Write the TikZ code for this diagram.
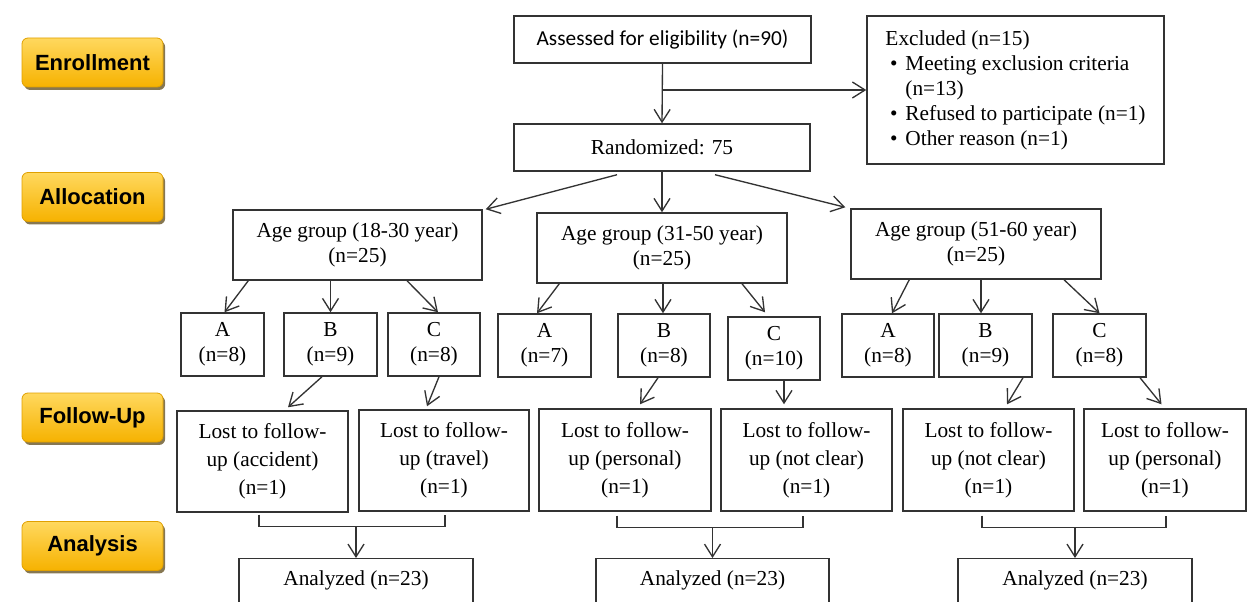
\documentclass[tikz,border=0pt]{standalone}
\usepackage{fontspec}
\setmainfont{Liberation Serif}
\newfontfamily\lblfont{Liberation Sans}
\newfontfamily\calfont{Carlito}
\usetikzlibrary{arrows.meta,calc,shadows}
\definecolor{ln}{HTML}{333333}
\definecolor{ytop}{HTML}{FFD85E}
\definecolor{ybot}{HTML}{F6B200}
\definecolor{yedge}{HTML}{E0A000}
\definecolor{shd}{HTML}{5E4A18}
\begin{document}
\begin{tikzpicture}[x=0.75pt,y=-0.75pt,
  wh/.style 2 args={minimum width=#1*0.75pt, minimum height=#2*0.75pt},
  box/.style={draw=ln, line width=1.1pt, inner sep=0pt, align=center,
    font=\fontsize{16}{18.75}\selectfont},
  lostbox/.style={box, font=\fontsize{16}{21}\selectfont},
  anl/.style={draw=ln, line width=1.1pt, inner xsep=0pt, inner ysep=9pt,
    anchor=north, minimum width=#1*0.75pt, text height=11.25pt, text depth=45pt,
    font=\fontsize{16}{18.75}\selectfont},
  arr/.style={draw=ln, line width=1pt, -{Straight Barb[length=9.5pt,width=12pt,line width=1pt]}},
  brk/.style={draw=ln, line width=1pt},
  phase/.style={draw=yedge, line width=0.6pt, top color=ytop, bottom color=ybot,
    rounded corners=4.5pt, minimum width=141*0.75pt, minimum height=49*0.75pt,
    font=\lblfont\bfseries\fontsize{16.5}{19}\selectfont,
    drop shadow={shadow xshift=1.6pt, shadow yshift=-2.2pt, fill=shd, opacity=0.75}}
]
\useasboundingbox (0,0) rectangle (1248,602);
\clip (0,0) rectangle (1248,602);

% phase labels
\node[phase] (penr) at (92.5,62.5) {Enrollment};
\node[phase] (pall) at (92.5,197) {Allocation};
\node[phase] (pfol) at (92.5,417.5) {Follow-Up};
\node[phase] (pana) at (92.5,546) {Analysis};

% top
\node[box, wh={297}{47}, font=\calfont\fontsize{16}{18.75}\selectfont] (assess) at (662.5,39.5) {Assessed for eligibility (n=90)};
\node[box, wh={296}{47}] (rand) at (662,147.5) {Randomized: 75};
\node[box, wh={297}{148}, align=left] (excl) at (1015.5,90)
 {Excluded (n=15)\\
  \makebox[15pt][l]{\hspace*{3.5pt}\textbullet}Meeting exclusion criteria\\
  \hspace*{15pt}(n=13)\\
  \makebox[15pt][l]{\hspace*{3.5pt}\textbullet}Refused to participate (n=1)\\
  \makebox[15pt][l]{\hspace*{3.5pt}\textbullet}Other reason (n=1)};

% age groups
\node[box, wh={249}{70}] (age1) at (357.5,245) {Age group (18-30 year)\\(n=25)};
\node[box, wh={250}{70}] (age2) at (662,248) {Age group (31-50 year)\\(n=25)};
\node[box, wh={250}{70}] (age3) at (976,244) {Age group (51-60 year)\\(n=25)};

% subgroups
\node[box, wh={83}{63}] (A1) at (222.5,344.5) {A\\(n=8)};
\node[box, wh={93}{63}] (B1) at (330.5,344.5) {B\\(n=9)};
\node[box, wh={92}{63}] (C1) at (434,344.5) {C\\(n=8)};
\node[box, wh={93}{63}] (A2) at (544.5,345.5) {A\\(n=7)};
\node[box, wh={92}{63}] (B2) at (664,345.5) {B\\(n=8)};
\node[box, wh={92}{63}] (C2) at (774,348.5) {C\\(n=10)};
\node[box, wh={92}{63}] (A3) at (888,345.5) {A\\(n=8)};
\node[box, wh={93}{63}] (B3) at (985.5,345.5) {B\\(n=9)};
\node[box, wh={93}{63}] (C3) at (1099.5,345.5) {C\\(n=8)};

% lost to follow-up
\node[lostbox, wh={171}{101}] (L1) at (262.5,461.5) {Lost to follow-\\up (accident)\\(n=1)};
\node[lostbox, wh={170}{101}] (L2) at (444,460.5) {Lost to follow-\\up (travel)\\(n=1)};
\node[lostbox, wh={172}{102}] (L3) at (625,460) {Lost to follow-\\up (personal)\\(n=1)};
\node[lostbox, wh={171}{102}] (L4) at (806.5,460) {Lost to follow-\\up (not clear)\\(n=1)};
\node[lostbox, wh={171}{102}] (L5) at (988.5,460) {Lost to follow-\\up (not clear)\\(n=1)};
\node[lostbox, wh={162}{102}] (L6) at (1165,460) {Lost to follow-\\up (personal)\\(n=1)};

% analyzed
\node[anl=234] (An1) at (356,558) {Analyzed (n=23)};
\node[anl=233] (An2) at (712.5,558) {Analyzed (n=23)};
\node[anl=234] (An3) at (1075,558) {Analyzed (n=23)};

% connectors top
\draw[arr] (assess.south) -- (rand.north);
\coordinate (ex) at (assess.south |- excl.west);
\draw[arr] (ex) -- (excl.west);
\draw[arr] ($(rand.south)+(-45,3)$) -- ($(age1.north east)+(3,0)$);
\draw[arr] (rand.south) -- (age2.north);
\draw[arr] ($(rand.south)+(53,3)$) -- ($(age3.north west)+(-5,-1)$);

% age -> subgroups
\draw[arr] ($(age1.south west)+(16,0)$) -- ($(A1.north)+(2,0)$);
\draw[arr] (B1.north |- age1.south) -- (B1.north);
\draw[arr] ($(age1.south)+(49.5,0)$) -- ($(C1.north)+(4,0)$);
\draw[arr] ($(age2.south west)+(23,0)$) -- ($(A2.north)+(-7.5,0)$);
\draw[arr] ($(age2.south)+(1,0)$) -- ($(B2.north)+(-1,0)$);
\draw[arr] ($(age2.south)+(80,0)$) -- ($(C2.north)+(-9,-4)$);
\draw[arr] ($(age3.south west)+(59,0)$) -- ($(A3.north)+(4,0)$);
\draw[arr] ($(age3.south)+(5,0)$) -- ($(B3.north)+(-4.5,0)$);
\draw[arr] ($(age3.south)+(88,0)$) -- (C3.north);

% subgroups -> lost
\draw[arr] ($(B1.south)+(-8.5,0)$) -- ($(L1.north)+(25.5,-3)$);
\draw[arr] ($(C1.south)+(5,0)$) -- ($(L2.north)+(-17,-3)$);
\draw[arr] ($(B2.south)+(-6,0)$) -- ($(L3.north)+(15,-4)$);
\draw[arr] ($(C2.south)+(10,0)$) -- ($(L4.north)+(-22.5,-4)$);
\draw[arr] ($(B3.south)+(37.5,0)$) -- ($(L5.north)+(18.5,-4)$);
\draw[arr] ($(C3.south)+(40.5,0)$) -- ($(L6.north)+(-3.5,-4)$);

% brackets
\coordinate (j1) at ($(L1.south)+(0,14)$);
\draw[brk] ($(L1.south)+(-3.5,2)$) |- ($(L2.south)+(1,15)$) -- ($(L2.south)+(1,3)$);
\draw[arr] (An1.north |- j1) -- (An1.north);
\coordinate (j2) at ($(L3.south)+(0,16)$);
\draw[brk] ($(L3.south)+(-8,4)$) |- ($(L4.south)+(-3.5,16)$) -- ($(L4.south)+(-3.5,4)$);
\draw[arr] (An2.north |- j2) -- (An2.north);
\coordinate (j3) at ($(L5.south)+(0,16)$);
\draw[brk] ($(L5.south)+(-6.5,4)$) |- ($(L6.south)+(1,16)$) -- ($(L6.south)+(1,4)$);
\draw[arr] (An3.north |- j3) -- (An3.north);
\end{tikzpicture}
\end{document}
